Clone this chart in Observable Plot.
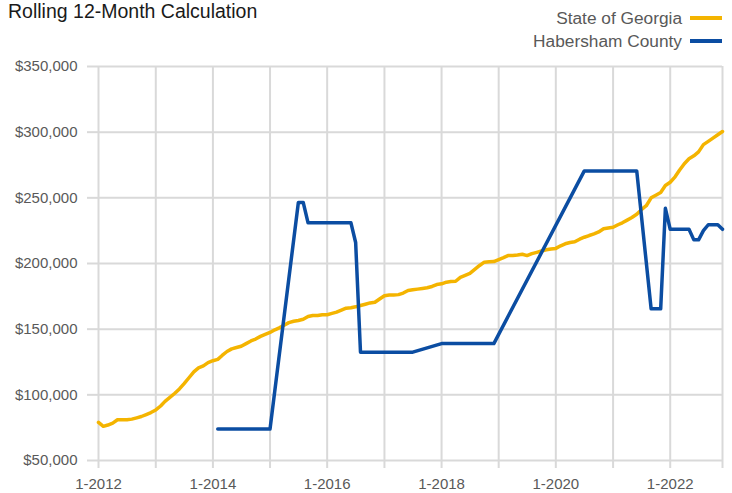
<!DOCTYPE html>
<html>
<head>
<meta charset="utf-8">
<script src="https://cdn.jsdelivr.net/npm/d3@7"></script>
<script src="https://cdn.jsdelivr.net/npm/@observablehq/plot@0.6"></script>
<style>
  html, body { margin: 0; padding: 0; background: #fff; }
  #wrap { position: relative; width: 732px; height: 493px; font-family: "Liberation Sans", Arial, sans-serif; }
  #title { position: absolute; left: 8px; top: -1px; font-size: 19.5px; color: #1a1a1a; white-space: nowrap; line-height: 24px; }
  .leg { position: absolute; right: 10px; display: flex; align-items: center; font-size: 17.3px; color: #595959; white-space: nowrap; line-height: 20px; }
  .leg .sw { display: inline-block; width: 32px; height: 3.5px; margin-left: 8px; }
</style>
</head>
<body>
<div id="wrap">
  <div id="title">Rolling 12-Month Calculation</div>
  <div class="leg" id="leg1" style="top:8px"><span>State of Georgia</span><span class="sw" id="sw1"></span></div>
  <div class="leg" id="leg2" style="top:31px"><span>Habersham County</span><span class="sw" id="sw2"></span></div>
</div>
<script>
// ---- data ----
const seriesNames = ["State of Georgia", "Habersham County"];
const seriesColors = ["#F4B400", "#0B4DA2"];

// State of Georgia, monthly Jan 2012 .. Dec 2022
const georgiaStart = "2012-01";
const georgiaValues = [
  79000, 76000, 77000, 78500, 81000, 81000, 81000, 81500, 82500, 83500, 85000, 86500,
  88500, 91500, 95000, 98000, 101000, 104500, 108500, 113000, 117500, 120500, 122000, 124500,
  126000, 127000, 130000, 133000, 135000, 136000, 137000, 139000, 141000, 142500, 144500, 146000,
  147500, 149500, 151000, 153000, 155000, 156000, 156600, 157500, 159600, 160400, 160400, 161000,
  161000, 162000, 163000, 164500, 166000, 166300, 167000, 168000, 169000, 170000, 170500, 173000,
  175500, 176000, 176000, 176300, 177500, 179500, 180000, 180500, 181000, 181500, 182500, 184000,
  184500, 185800, 186300, 186500, 189500, 191000, 192500, 195500, 198500, 201000, 201300, 201500,
  203000, 204500, 206000, 206100, 206500, 207000, 206000, 207500, 208500, 209500, 210400, 211000,
  211500, 213500, 215000, 216000, 216500, 218500, 220000, 221300, 222500, 224000, 226400, 227000,
  227600, 229500, 231000, 233000, 235000, 237500, 241000, 244000, 250000, 252000, 254000, 259400,
  261900, 266000, 271000, 276000, 279700, 282000, 285000, 290500, 293000, 295500, 298000, 300500
];

// Habersham County, reported months
const habershamMonths = [
  "2014-02", "2015-01", "2015-07", "2015-08", "2015-09", "2016-06", "2016-07", "2016-08",
  "2017-07", "2018-01", "2018-12", "2020-07", "2021-06", "2021-09", "2021-10", "2021-11",
  "2021-12", "2022-01", "2022-05", "2022-06", "2022-07", "2022-08", "2022-09", "2022-10",
  "2022-11", "2022-12"
];
const habershamValues = [
  74000, 74000, 246500, 246500, 231000, 231000, 216000, 132500,
  132500, 139000, 139000, 270500, 270500, 165500, 165500, 165500,
  242000, 226000, 226000, 218000, 218000, 225000, 229500, 229500,
  229500, 226000
];

const yTicks = [50000, 100000, 150000, 200000, 250000, 300000, 350000];
const gridYears = [2012, 2013, 2014, 2015, 2016, 2017, 2018, 2019, 2020, 2021, 2022];
const labelYears = [2012, 2014, 2016, 2018, 2020, 2022];
const xEnd = "2022-12";

// ---- build ----
const parseMonth = d3.utcParse("%Y-%m");
const start = parseMonth(georgiaStart);
const georgia = georgiaValues.map((v, i) => ({date: d3.utcMonth.offset(start, i), value: v}));
const habersham = habershamMonths.map((m, i) => ({date: parseMonth(m), value: habershamValues[i]}));
const endDate = parseMonth(xEnd);
const gridDates = gridYears.map(y => new Date(Date.UTC(y, 0, 1))).concat([endDate]);
const fmtDollar = d3.format("$,");

const gridColor = "#D9D9D9";
const textColor = "#595959";

const chart = Plot.plot({
  width: 732,
  height: 493,
  marginLeft: 98,
  marginRight: 10,
  marginTop: 66,
  marginBottom: 33,
  style: {fontFamily: '"Liberation Sans", Arial, sans-serif', fontSize: "15px", background: "white", color: textColor},
  x: {type: "utc", domain: [start, endDate], label: null},
  y: {domain: [50000, 350000], label: null},
  marks: [
    Plot.gridX(gridDates, {stroke: gridColor, strokeOpacity: 1, strokeWidth: 2}),
    Plot.gridY(yTicks, {stroke: gridColor, strokeOpacity: 1, strokeWidth: 2}),
    Plot.axisX(gridDates, {
      label: null,
      tickSize: 8, tickPadding: 10, stroke: gridColor, strokeWidth: 2, fill: textColor,
      tickFormat: d => (d.getUTCMonth() === 0 && labelYears.includes(d.getUTCFullYear())) ? "1-" + d.getUTCFullYear() : "",
      fontSize: 15
    }),
    Plot.axisY(yTicks, {
      label: null,
      tickSize: 11, tickPadding: 10, stroke: gridColor, strokeWidth: 2, fill: textColor,
      tickFormat: d => fmtDollar(d), fontSize: 15
    }),
    Plot.line(georgia, {x: "date", y: "value", stroke: seriesColors[0], strokeWidth: 3.5}),
    Plot.line(habersham, {x: "date", y: "value", stroke: seriesColors[1], strokeWidth: 3.5})
  ]
});

const wrap = document.getElementById("wrap");
wrap.insertBefore(chart, wrap.firstChild);
chart.style.position = "absolute";
chart.style.left = "0";
chart.style.top = "0";
document.querySelector("#leg1 span").textContent = seriesNames[0];
document.querySelector("#leg2 span").textContent = seriesNames[1];
document.getElementById("sw1").style.background = seriesColors[0];
document.getElementById("sw2").style.background = seriesColors[1];
</script>
</body>
</html>
